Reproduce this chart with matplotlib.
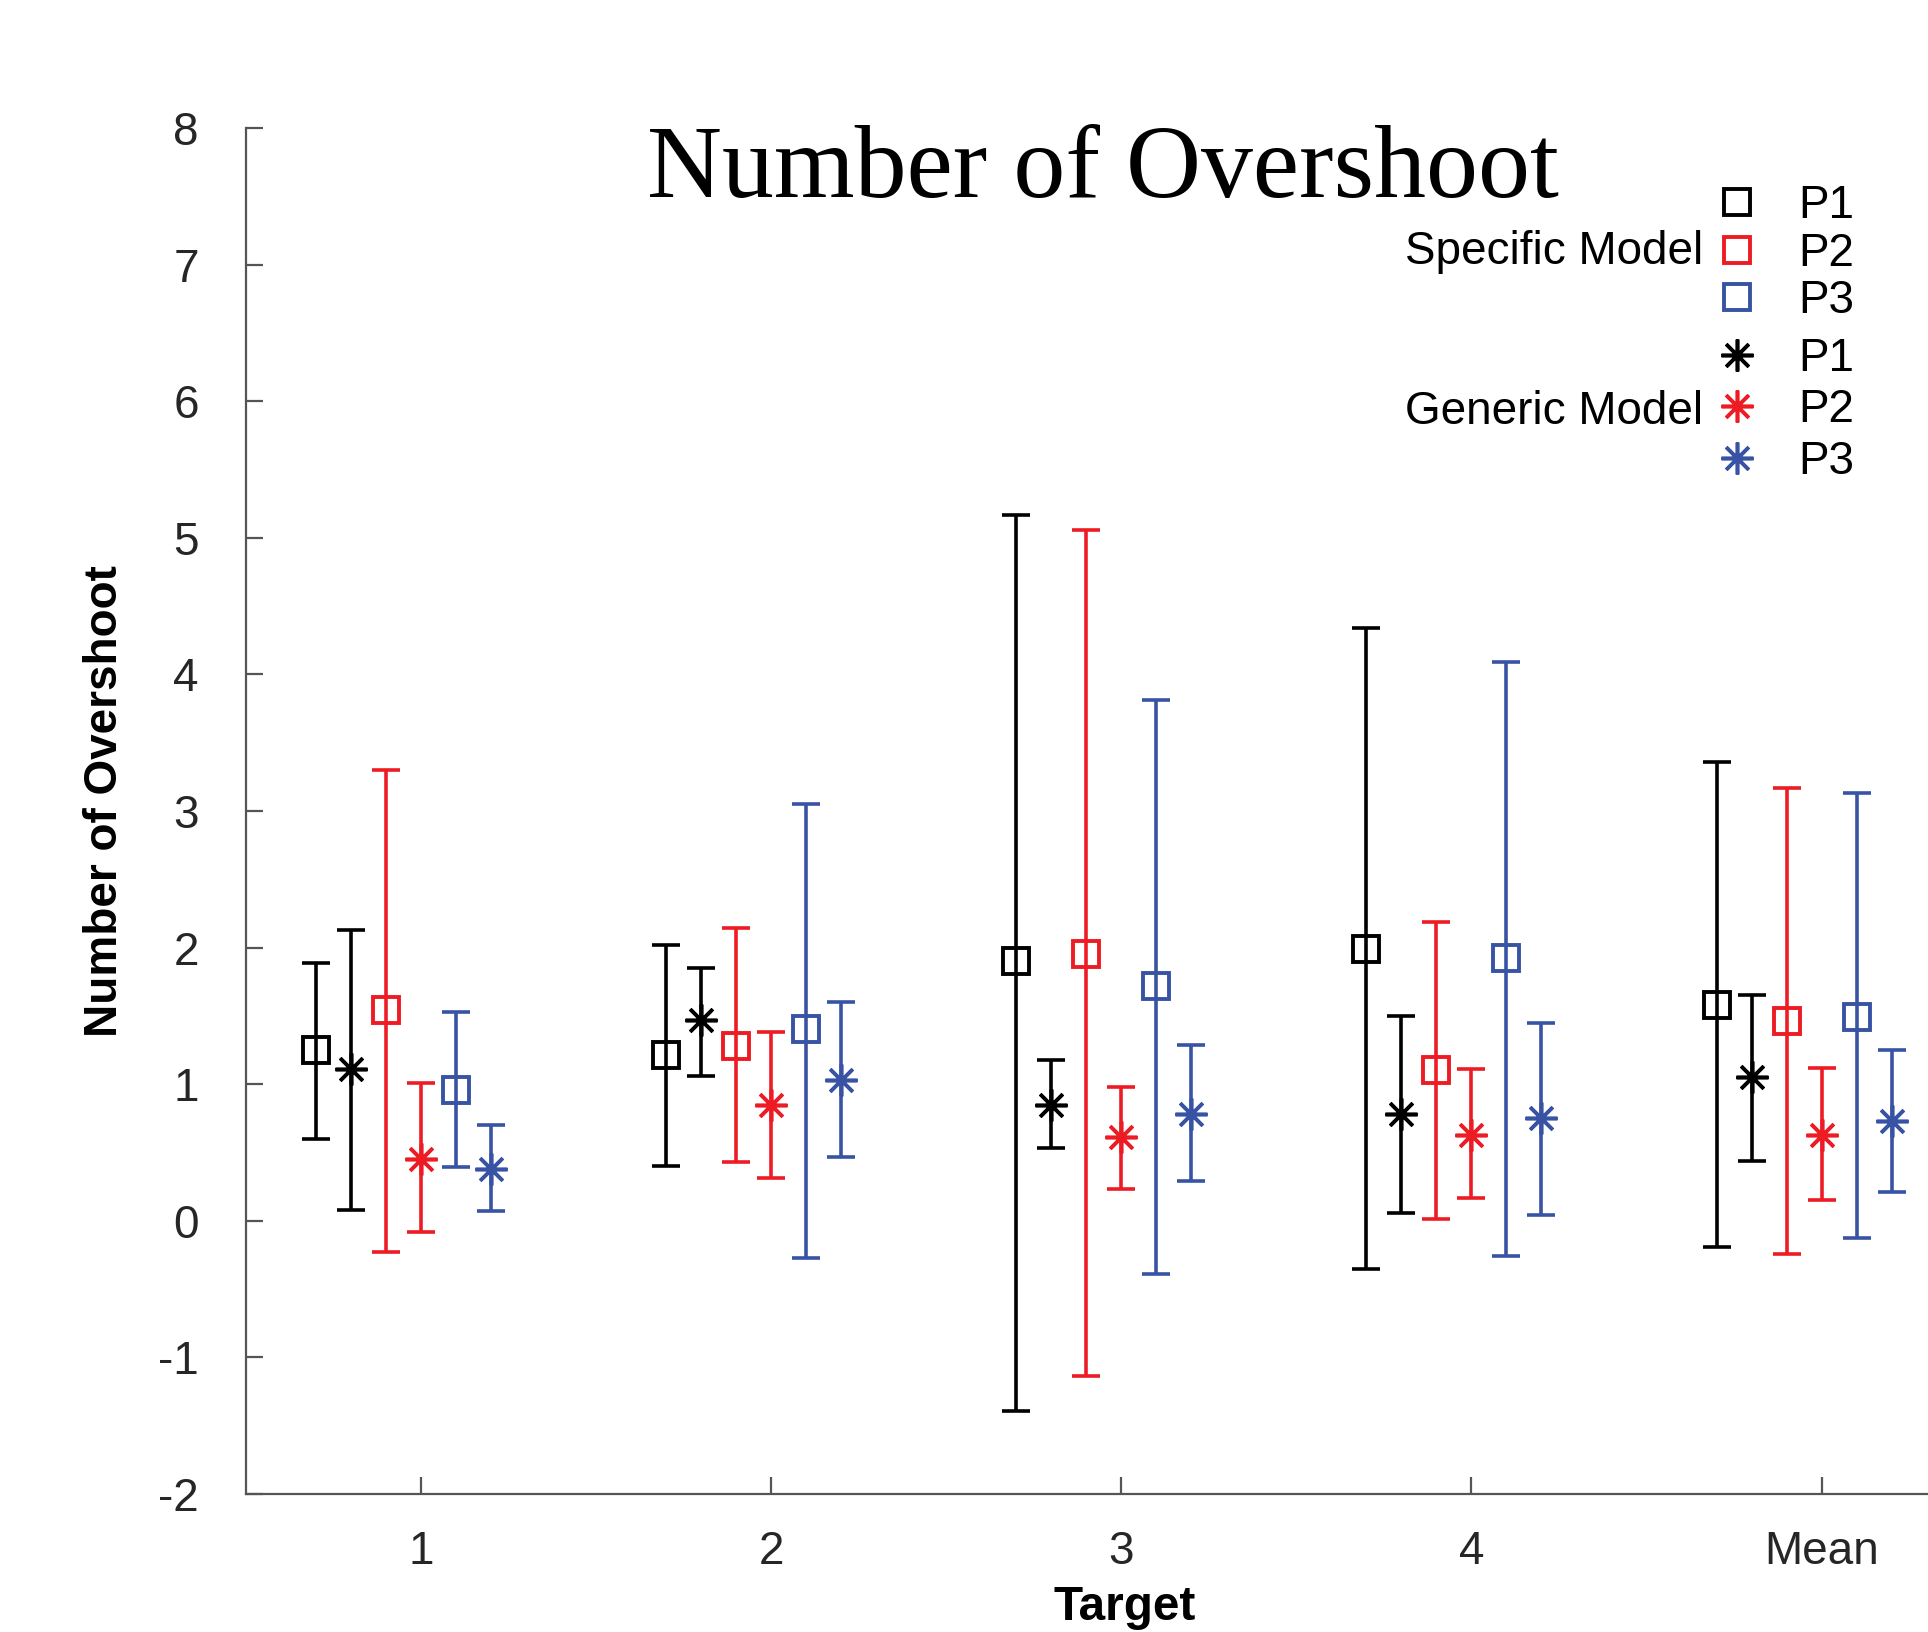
#Number of Overshoot - error bar chart

#import the libraries
import numpy as np
import matplotlib
matplotlib.use('Agg')
import matplotlib.pyplot as plt

plt.rcParams['axes.unicode_minus'] = False

#data: mean, lower end, upper end of each bar
targets = ['1', '2', '3', '4', 'Mean']

spec_p1_mean = [1.25, 1.21, 1.90, 1.99, 1.58]
spec_p1_low = [0.60, 0.40, -1.39, -0.35, -0.19]
spec_p1_high = [1.89, 2.02, 5.17, 4.34, 3.36]

gen_p1_mean = [1.11, 1.47, 0.85, 0.78, 1.05]
gen_p1_low = [0.08, 1.06, 0.53, 0.06, 0.44]
gen_p1_high = [2.13, 1.85, 1.18, 1.50, 1.65]

spec_p2_mean = [1.54, 1.28, 1.95, 1.10, 1.46]
spec_p2_low = [-0.23, 0.43, -1.14, 0.01, -0.24]
spec_p2_high = [3.30, 2.14, 5.06, 2.19, 3.17]

gen_p2_mean = [0.45, 0.85, 0.61, 0.63, 0.63]
gen_p2_low = [-0.08, 0.31, 0.23, 0.17, 0.15]
gen_p2_high = [1.01, 1.38, 0.98, 1.11, 1.12]

spec_p3_mean = [0.96, 1.40, 1.72, 1.92, 1.49]
spec_p3_low = [0.39, -0.27, -0.39, -0.26, -0.13]
spec_p3_high = [1.53, 3.05, 3.81, 4.09, 3.13]

gen_p3_mean = [0.38, 1.03, 0.78, 0.75, 0.73]
gen_p3_low = [0.07, 0.47, 0.29, 0.04, 0.21]
gen_p3_high = [0.70, 1.60, 1.29, 1.45, 1.25]

red = '#ED1C24'
blue = '#3853A4'

#order along each group: P1 spec, P1 gen, P2 spec, P2 gen, P3 spec, P3 gen
series = [
    ('P1', 'spec', 'black', -0.3, spec_p1_mean, spec_p1_low, spec_p1_high),
    ('P1', 'gen', 'black', -0.2, gen_p1_mean, gen_p1_low, gen_p1_high),
    ('P2', 'spec', red, -0.1, spec_p2_mean, spec_p2_low, spec_p2_high),
    ('P2', 'gen', red, 0.0, gen_p2_mean, gen_p2_low, gen_p2_high),
    ('P3', 'spec', blue, 0.1, spec_p3_mean, spec_p3_low, spec_p3_high),
    ('P3', 'gen', blue, 0.2, gen_p3_mean, gen_p3_low, gen_p3_high),
]

fig = plt.figure(figsize=(9.64, 8.16), dpi=200)
ax = fig.add_axes([0.1276, 0.0846, 0.908, 0.837])

x = np.arange(1, len(targets) + 1)
handles = {}
for name, kind, col, off, m, lo, hi in series:
    m = np.array(m)
    err = [m - np.array(lo), np.array(hi) - m]
    if kind == 'spec':
        mk = dict(marker='s', markersize=9.5, markerfacecolor='none', markeredgewidth=1.4)
    else:
        mk = dict(marker=(8, 2, 0), markersize=11.5, markeredgewidth=1.3)
    ax.errorbar(x + off, m, yerr=err, fmt='none', ecolor=col,
                elinewidth=1.3, capsize=5, capthick=1.3)
    line, = ax.plot(x + off, m, linestyle='none', color=col, markeredgecolor=col, **mk)
    handles[(name, kind)] = line

ax.set_xlim(0.5, 5.5)
ax.set_ylim(-2, 8)
ax.set_yticks(np.arange(-2, 9, 1))
ax.set_xticks(x)
ax.set_xticklabels(targets)

for s in ['top', 'right']:
    ax.spines[s].set_visible(False)
for s in ['left', 'bottom']:
    ax.spines[s].set_color('#555555')
    ax.spines[s].set_linewidth(0.8)

ax.tick_params(axis='both', direction='in', length=6, width=0.8, color='#555555',
               labelcolor='#262626', labelsize=16.5)
ax.tick_params(axis='y', pad=17)
ax.tick_params(axis='x', pad=13)
for lab in ax.get_xticklabels() + ax.get_yticklabels():
    lab.set_family('Liberation Sans')

fig.text(105 / 1928, 1 - 801 / 1632, 'Number of Overshoot', rotation=90,
         ha='center', va='center', fontsize=16.5, fontweight='bold', family='Liberation Sans')
fig.text(1125 / 1928, 1 - 1607 / 1632, 'Target', ha='center', va='center',
         fontsize=17.2, fontweight='bold', family='Liberation Sans')

fig.text(1103 / 1928, 1 - 197 / 1632, 'Number of Overshoot', ha='center', va='baseline',
         fontsize=37.4, family='Liberation Serif')

#legend: two stacked blocks with the model name on the left
leg_font = {'family': 'Liberation Sans', 'size': 16.5}
leg1 = fig.legend([handles[('P1', 'spec')], handles[('P2', 'spec')], handles[('P3', 'spec')]],
                  ['P1', 'P2', 'P3'], loc='upper left', bbox_to_anchor=(1714 / 1928, 1 - 184 / 1632),
                  frameon=False, prop=leg_font, handlelength=1.0, handletextpad=0.83,
                  labelspacing=0.08, borderpad=0, borderaxespad=0)
leg2 = fig.legend([handles[('P1', 'gen')], handles[('P2', 'gen')], handles[('P3', 'gen')]],
                  ['P1', 'P2', 'P3'], loc='upper left', bbox_to_anchor=(1714 / 1928, 1 - 337 / 1632),
                  frameon=False, prop=leg_font, handlelength=1.0, handletextpad=0.83,
                  labelspacing=0.16, borderpad=0, borderaxespad=0)
fig.text(1703 / 1928, 1 - 252 / 1632, 'Specific Model', ha='right', va='center',
         fontsize=16.5, family='Liberation Sans')
fig.text(1703 / 1928, 1 - 412 / 1632, 'Generic Model', ha='right', va='center',
         fontsize=16.5, family='Liberation Sans')

fig.savefig('out.png', dpi=200)
